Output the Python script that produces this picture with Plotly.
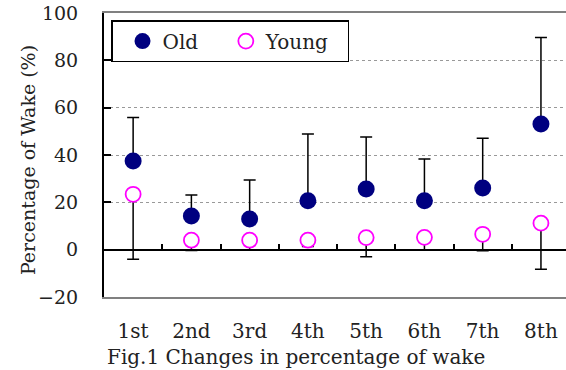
import plotly.graph_objects as go

categories = ["1st", "2nd", "3rd", "4th", "5th", "6th", "7th", "8th"]
old_values = [37.5, 14.2, 13.0, 20.7, 25.6, 20.7, 26.1, 53.1]
old_err_up = [18.3, 8.9, 16.4, 28.2, 22.0, 17.6, 21.0, 36.5]
young_values = [23.4, 4.0, 4.0, 4.0, 5.1, 5.2, 6.5, 11.2]
young_err_down = [27.5, 4.4, 4.0, 2.7, 8.1, 5.2, 7.0, 19.5]
boundaries = [0.5, 1.5, 2.5, 3.5, 4.5, 5.5, 6.5, 7.5]
y_ticks = [-20, 0, 20, 40, 60, 80, 100]

FONT = "DejaVu Serif"
TXT = "#222222"
NB = "\u00a0"

fig = go.Figure()
fig.add_trace(go.Scatter(
    x=categories, y=old_values, name="Old" + NB * 2, mode="markers",
    marker=dict(symbol="circle", size=17, color="#000080", line=dict(width=0)),
    error_y=dict(type="data", symmetric=False, array=old_err_up,
                 arrayminus=[0] * len(old_values), color="black", thickness=1.5, width=6),
))
fig.add_trace(go.Scatter(
    x=categories, y=young_values, name="Young" + NB * 2, mode="markers",
    marker=dict(symbol="circle", size=15, color="white", line=dict(width=1.8, color="#FF00FF")),
    error_y=dict(type="data", symmetric=False, array=[0] * len(young_values),
                 arrayminus=young_err_down, color="black", thickness=1.5, width=6),
))
# invisible helper trace so the boundary-tick axis is drawn
fig.add_trace(go.Scatter(x=[0], y=[0], xaxis="x2", mode="markers",
                         marker=dict(opacity=0), showlegend=False, hoverinfo="skip"))

fig.update_layout(
    width=566, height=370,
    margin=dict(l=104, r=0, t=13, b=73, autoexpand=False),
    paper_bgcolor="white", plot_bgcolor="white",
    font=dict(family=FONT, size=18, color=TXT),
    showlegend=True,
    legend=dict(orientation="h", x=0.0152, y=0.975, xanchor="left", yanchor="top",
                bordercolor="black", borderwidth=1.5, bgcolor="white",
                font=dict(family=FONT, size=20, color=TXT),
                itemwidth=30, indentation=10),
    xaxis=dict(type="category", range=[-0.5, 7.43], showgrid=False, zeroline=False,
               automargin=False,
               showline=True, linecolor="#808080", linewidth=2, mirror=True,
               ticks="outside", ticklen=15, tickcolor="rgba(0,0,0,0)",
               tickfont=dict(family=FONT, size=20, color=TXT)),
    xaxis2=dict(overlaying="x", anchor="free", position=20 / 120, range=[-0.5, 7.43],
                automargin=False,
                tickvals=boundaries, ticks="inside", ticklen=6, tickwidth=1.5,
                tickcolor="black", showticklabels=False, showgrid=False,
                zeroline=False, showline=False, side="bottom"),
    yaxis=dict(range=[-20, 100], tickvals=y_ticks, showgrid=True, automargin=False,
               gridcolor="#999999", griddash="dot", gridwidth=1,
               zeroline=True, zerolinecolor="black", zerolinewidth=1.5,
               showline=True, linecolor="black", linewidth=2,
               ticks="inside", ticklen=7, tickwidth=1.5, tickcolor="black",
               ticklabelstandoff=20,
               tickfont=dict(family=FONT, size=19, color=TXT)),
    annotations=[
        dict(text="Percentage of Wake (%)", textangle=-90, xref="paper", yref="paper",
             x=-0.1645, y=0.482, xanchor="center", yanchor="middle", showarrow=False,
             font=dict(family=FONT, size=19, color=TXT)),
        dict(text="Fig.1 Changes in percentage of wake", xref="paper", yref="paper",
             x=0.4156, y=-0.211, xanchor="center", yanchor="middle", showarrow=False,
             font=dict(family=FONT, size=20, color=TXT)),
    ],
)

fig.write_html("out.html", config={"displayModeBar": False},
               post_script="document.body.style.margin='0';document.body.style.overflow='hidden';")
